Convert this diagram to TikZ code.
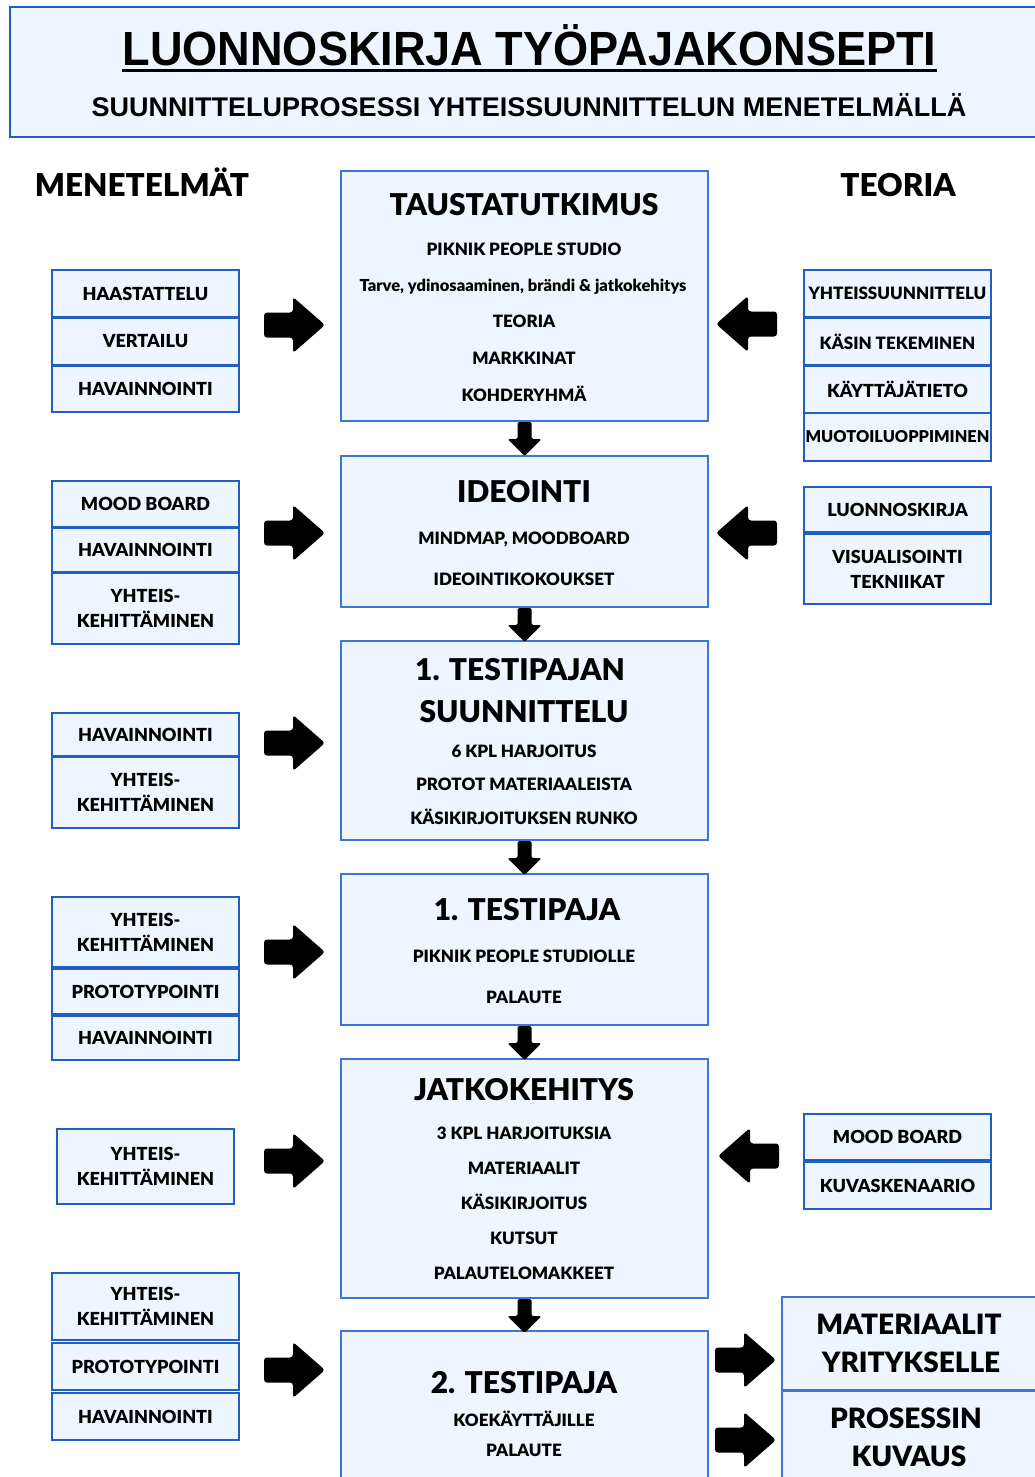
\documentclass[tikz,border=0pt]{standalone}
\usepackage{fontspec}
\setmainfont{Lato}[BoldFont={Lato Black}]
\newfontfamily\headfont[FakeStretch=0.94]{Liberation Sans}
\newfontfamily\subheadfont{Liberation Sans}
\definecolor{boxfill}{HTML}{EEF5FE}
\definecolor{boxline}{HTML}{1F5FC4}
\definecolor{mainline}{HTML}{3A78D6}
\tikzset{
  cell/.style={draw=boxline, line width=2.4pt, fill=boxfill, minimum width=187pt,
    inner sep=0pt, align=center, font=\fontsize{18}{25}\selectfont\bfseries},
  mainbox/.style={draw=mainline, line width=2pt, fill=boxfill, minimum width=367pt, inner sep=0pt},
  bigtext/.style={font=\fontsize{30}{36}\selectfont\bfseries, inner sep=0pt,
    text height=21.5pt, text depth=0pt},
  headtext/.style={font=\fontsize{31.5}{36}\selectfont\bfseries, inner sep=0pt,
    text height=22.6pt, text depth=0pt},
  outtext/.style={font=\fontsize{28}{34}\selectfont\bfseries, inner sep=0pt,
    text height=20.1pt, text depth=0pt},
  smalltext/.style={font=\fontsize{17}{20}\selectfont\bfseries, inner sep=0pt,
    text height=12.2pt, text depth=0pt},
  rblock/.pic={\fill[rounded corners=3pt] (0,-12.5) -- (29,-12.5) -- (29,-28) -- (61,0)
    -- (29,28) -- (29,12.5) -- (0,12.5) -- cycle;},
  lblock/.pic={\fill[rounded corners=3pt] (0,-12.5) -- (-29,-12.5) -- (-29,-28) -- (-61,0)
    -- (-29,28) -- (-29,12.5) -- (0,12.5) -- cycle;},
  dblock/.pic={\fill[rounded corners=1.5pt] (-7,0) -- (-7,17) -- (-17,17) -- (0,34)
    -- (17,17) -- (7,17) -- (7,0) -- cycle;},
}
\begin{document}
\begin{tikzpicture}[x=1pt,y=-1pt]
\useasboundingbox (0,0) rectangle (1035,1477);
\clip (0,0) rectangle (1035,1477);
\fill[white] (0,0) rectangle (1035,1477);

% header banner
\node[draw=boxline, line width=2pt, fill=boxfill, minimum width=1040pt, minimum height=130pt,
  inner sep=0pt] (header) at (530,72) {};
\node[font=\headfont\bfseries\fontsize{48}{52}\selectfont, inner sep=0pt,
  text height=34.4pt, text depth=0pt] (title) at (529.5,48) {LUONNOSKIRJA TYÖPAJAKONSEPTI};
\draw[line width=3.5pt] ([yshift=-5pt]title.south west) -- ([yshift=-5pt]title.south east);
\node[font=\subheadfont\bfseries\fontsize{27}{30}\selectfont, inner sep=0pt,
  text height=19.3pt, text depth=0pt] (subtitle) at (529,107)
  {SUUNNITTELUPROSESSI YHTEISSUUNNITTELUN MENETELMÄLLÄ};

% column headings
\node[headtext] (hmet) at (142,185) {MENETELMÄT};
\node[headtext] (hteo) at (898,185) {TEORIA};

% main process column
\node[mainbox, minimum height=250pt] (M1) at (524.5,296) {};
\node[mainbox, minimum height=151pt] (M2) at (524.5,531.5) {};
\node[mainbox, minimum height=199pt] (M3) at (524.5,740.5) {};
\node[mainbox, minimum height=151pt] (M4) at (524.5,949.5) {};
\node[mainbox, minimum height=239pt] (M5) at (524.5,1178.5) {};
\node[mainbox, minimum height=160pt] (M6) at (524.5,1411) {};

\node[bigtext] (m1t) at (524,205) {TAUSTATUTKIMUS};
\node[smalltext] (m1a) at (524,249) {PIKNIK PEOPLE STUDIO};
\node[font=\fontsize{16.5}{18}\selectfont\bfseries, inner sep=0pt, text height=11.8pt,
  text depth=0pt] (m1b) at (523,286) {Tarve, ydinosaaminen, brändi \& jatkokehitys};
\node[smalltext] (m1c) at (524,321) {TEORIA};
\node[smalltext] (m1d) at (524,358) {MARKKINAT};
\node[smalltext] (m1e) at (524,395) {KOHDERYHMÄ};

\node[bigtext] (m2t) at (524,492) {IDEOINTI};
\node[smalltext] (m2a) at (524,538) {MINDMAP, MOODBOARD};
\node[smalltext] (m2b) at (524,579) {IDEOINTIKOKOUKSET};

\node[bigtext] (m3t) at (520,670) {1. TESTIPAJAN};
\node[bigtext] (m3u) at (524,712) {SUUNNITTELU};
\node[smalltext] (m3a) at (524,751) {6 KPL HARJOITUS};
\node[smalltext] (m3b) at (524,784) {PROTOT MATERIAALEISTA};
\node[smalltext] (m3c) at (524,818) {KÄSIKIRJOITUKSEN RUNKO};

\node[bigtext] (m4t) at (527,910) {1. TESTIPAJA};
\node[smalltext] (m4a) at (524,956) {PIKNIK PEOPLE STUDIOLLE};
\node[smalltext] (m4b) at (524,997) {PALAUTE};

\node[bigtext] (m5t) at (524,1090) {JATKOKEHITYS};
\node[smalltext] (m5a) at (524,1133) {3 KPL HARJOITUKSIA};
\node[smalltext] (m5b) at (524,1168) {MATERIAALIT};
\node[smalltext] (m5c) at (524,1203) {KÄSIKIRJOITUS};
\node[smalltext] (m5d) at (524,1238) {KUTSUT};
\node[smalltext] (m5e) at (524,1273) {PALAUTELOMAKKEET};

\node[bigtext] (m6t) at (524,1383) {2. TESTIPAJA};
\node[smalltext] (m6a) at (524,1420) {KOEKÄYTTÄJILLE};
\node[smalltext] (m6b) at (524,1450) {PALAUTE};

% downward flow arrows
\pic at (M1.south) {dblock};
\pic at (M2.south) {dblock};
\pic at (M3.south) {dblock};
\pic at (M4.south) {dblock};
\pic at (M5.south) {dblock};

% methods (left)
\node[cell, minimum height=47pt] (L1a) at (145.5,293.5) {HAASTATTELU};
\node[cell, minimum height=47pt] (L1b) at (145.5,341.5) {VERTAILU};
\node[cell, minimum height=46pt] (L1c) at (145.5,389) {HAVAINNOINTI};

\node[cell, minimum height=46pt] (L2a) at (145.5,504) {MOOD BOARD};
\node[cell, minimum height=45pt] (L2b) at (145.5,550) {HAVAINNOINTI};
\node[cell, minimum height=71pt] (L2c) at (145.5,608.5) {YHTEIS-\\KEHITTÄMINEN};

\node[cell, minimum height=43pt] (L3a) at (145.5,734.5) {HAVAINNOINTI};
\node[cell, minimum height=71pt] (L3b) at (145.5,792.5) {YHTEIS-\\KEHITTÄMINEN};

\node[cell, minimum height=70pt] (L4a) at (145.5,932) {YHTEIS-\\KEHITTÄMINEN};
\node[cell, minimum height=45pt] (L4b) at (145.5,991.5) {PROTOTYPOINTI};
\node[cell, minimum height=44pt] (L4c) at (145.5,1038) {HAVAINNOINTI};

\node[cell, minimum width=177pt, minimum height=75pt] (L5a) at (145.5,1166.5) {YHTEIS-\\KEHITTÄMINEN};

\node[cell, minimum height=67pt] (L6a) at (145.5,1306.5) {YHTEIS-\\KEHITTÄMINEN};
\node[cell, minimum height=47pt] (L6b) at (145.5,1366.5) {PROTOTYPOINTI};
\node[cell, minimum height=47pt] (L6c) at (145.5,1416.5) {HAVAINNOINTI};

% theory (right)
\node[cell, minimum height=47pt, font=\fontsize{17}{25}\selectfont\bfseries] (R1a) at (897.5,293.5) {YHTEISSUUNNITTELU};
\node[cell, minimum height=47pt, font=\fontsize{17}{25}\selectfont\bfseries] (R1b) at (897.5,341.5) {KÄSIN TEKEMINEN};
\node[cell, minimum height=47pt] (R1c) at (897.5,389.5) {KÄYTTÄJÄTIETO};
\node[cell, minimum height=48pt, font=\fontsize{16.3}{25}\selectfont\bfseries] (R1d) at (897.5,437) {MUOTOILUOPPIMINEN};

\node[cell, minimum height=45pt] (R2a) at (897.5,509.5) {LUONNOSKIRJA};
\node[cell, minimum height=70pt] (R2b) at (897.5,569) {VISUALISOINTI\\TEKNIIKAT};

\node[cell, minimum height=46pt] (R5a) at (897.5,1137) {MOOD BOARD};
\node[cell, minimum height=47pt] (R5b) at (897.5,1185.5) {KUVASKENAARIO};

% outputs (bottom right)
\node[mainbox, minimum width=270pt, minimum height=93pt, anchor=north west] (O1) at (781,1296) {};
\node[mainbox, minimum width=270pt, minimum height=100pt, anchor=north west] (O2) at (781,1390) {};
\node[outtext] (o1a) at (909,1324) {MATERIAALIT};
\node[outtext] (o1b) at (911,1362) {YRITYKSELLE};
\node[outtext] (o2a) at (906,1418) {PROSESSIN};
\node[outtext] (o2b) at (909,1456) {KUVAUS};

% block arrows from methods into the process
\pic at (264,325) {rblock};
\pic at (264,533) {rblock};
\pic at (264,743) {rblock};
\pic at (264,952) {rblock};
\pic at (264,1161) {rblock};
\pic at (264,1370) {rblock};

% block arrows from theory into the process
\pic at (777,324) {lblock};
\pic at (777,533) {lblock};
\pic at (779,1156) {lblock};

% block arrows to the outputs
\pic at (715,1360) {rblock};
\pic at (715,1440) {rblock};
\end{tikzpicture}
\end{document}
